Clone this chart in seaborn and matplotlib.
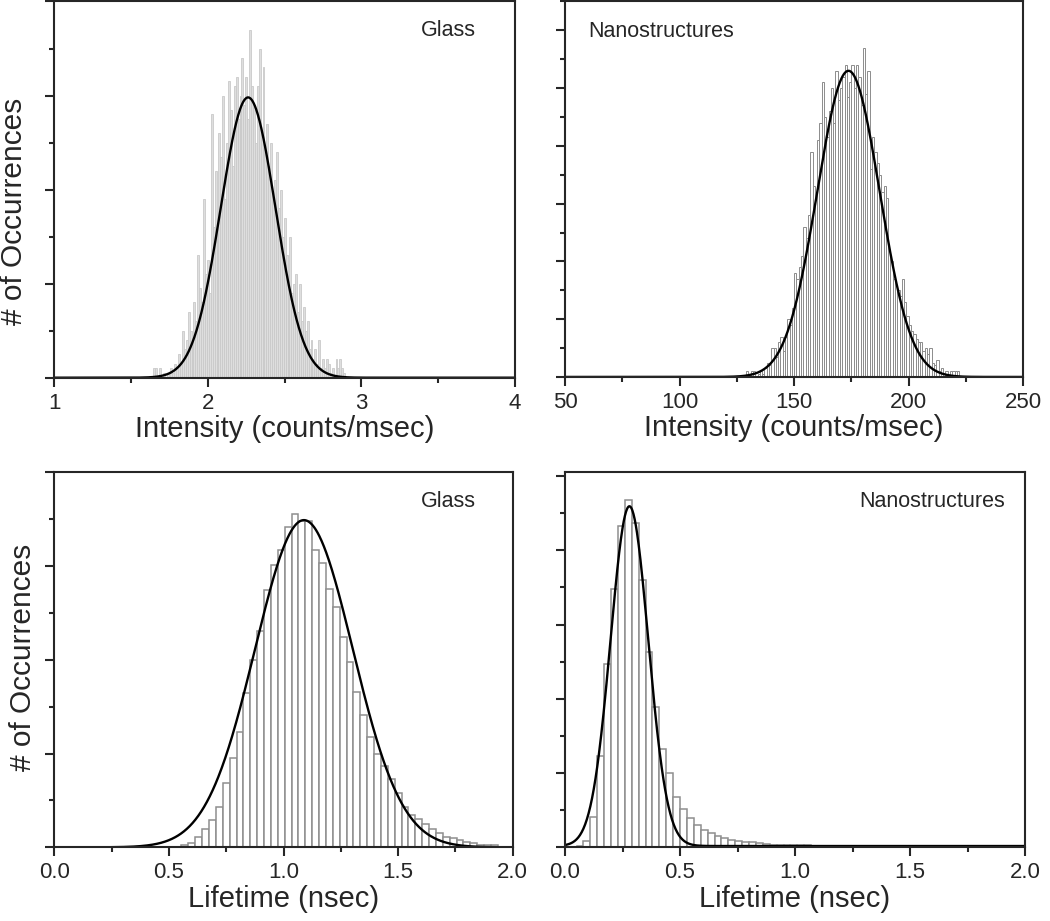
import numpy as np
import pandas as pd
import matplotlib
matplotlib.use('Agg')
import matplotlib.pyplot as plt
from matplotlib.ticker import MultipleLocator
import seaborn as sns

# ---- intensity, glass: bins of 0.0125 starting at 1.64375 ----
glass_int_start, glass_int_width = 1.64375, 0.0125
glass_int_counts = [2, 2, 0, 2, 0, 1, 0, 1, 0, 2,
                    1, 3, 2, 5, 3, 10, 6, 8, 14, 10,
                    8, 16, 12, 26, 19, 16, 38, 22, 25, 18,
                    56, 32, 44, 32, 52, 47, 60, 38, 50, 63,
                    57, 45, 62, 64, 55, 60, 68, 58, 64, 55,
                    74, 62, 58, 50, 62, 70, 52, 66, 48, 54,
                    45, 50, 38, 42, 48, 36, 40, 30, 34, 26,
                    22, 30, 18, 20, 22, 14, 20, 12, 15, 10,
                    12, 6, 8, 4, 6, 3, 8, 2, 4, 2,
                    4, 3, 1, 2, 0, 4, 2, 4, 2, 1,
                    0]
glass_int_fit = dict(amp=59.6, mu=2.262, sigma=0.178, base=0)

# ---- intensity, nanostructures: bins of 1 count/msec from 129 ----
nano_int_start, nano_int_width = 129, 1.0
nano_int_counts = [2, 0, 2, 2, 0, 1, 2, 1, 3, 5,
                   4, 10, 10, 7, 12, 14, 9, 14, 20, 18,
                   24, 36, 34, 38, 42, 52, 48, 56, 78, 66,
                   62, 82, 88, 102, 90, 83, 92, 100, 88, 106,
                   96, 100, 104, 108, 97, 102, 108, 100, 108, 104,
                   94, 114, 98, 106, 72, 83, 78, 74, 70, 64,
                   66, 62, 44, 40, 34, 32, 30, 28, 34, 26,
                   21, 18, 16, 15, 13, 12, 12, 9, 10, 8,
                   10, 5, 4, 6, 2, 3, 1, 2, 0, 2,
                   2, 2, 2]
nano_int_fit = dict(amp=106, mu=173.7, sigma=13.6, base=0)

# ---- lifetime, glass: bins of 0.03 nsec from 0.555 ----
glass_life_start, glass_life_width = 0.555, 0.03
glass_life_counts = [4, 9, 21, 39, 58, 87, 138, 191, 245, 330,
                     399, 462, 549, 602, 635, 684, 712, 697, 696, 635,
                     606, 552, 513, 449, 396, 332, 282, 236, 198, 174,
                     146, 115, 87, 70, 60, 50, 39, 30, 23, 19,
                     16, 12, 9, 6, 5, 4]
glass_life_fit = dict(amp=698, mu=1.089, sigma=0.213, base=0)

# ---- lifetime, nanostructures: bins of 0.03 nsec from 0.02 ----
nano_life_start, nano_life_width = 0.02, 0.03
nano_life_counts = [2, 4, 17, 83, 247, 495, 697, 865, 936, 874,
                    719, 526, 377, 264, 199, 135, 102, 78, 60, 47,
                    39, 31, 24, 20, 17, 13, 13, 11, 9, 7,
                    6, 6, 5, 5, 5, 4, 4, 4, 4, 4,
                    4, 3, 3, 3, 3, 3, 3, 3, 3, 3,
                    3, 3, 3, 3, 3, 3, 3, 3, 3, 3,
                    3, 3, 3, 3, 3, 3]
nano_life_fit = dict(amp=915, mu=0.28, sigma=0.082, base=3.5)

sns.set_style('ticks')
plt.rcParams['font.family'] = ['Liberation Sans', 'DejaVu Sans']


def hist_panel(ax, start, width, counts, fit, xlim, ylim, xmajor, ymajor,
               face, edge, lw):
    n = len(counts)
    df = pd.DataFrame({'center': start + width * (np.arange(n) + 0.5),
                       'count': np.asarray(counts, dtype=float)})
    sns.histplot(data=df, x='center', weights='count', ax=ax, stat='count',
                 binwidth=width, binrange=(start, start + width * n),
                 facecolor=face, edgecolor=edge, linewidth=lw, alpha=1)

    xs = np.linspace(xlim[0], xlim[1], 800)
    ys = fit['base'] + fit['amp'] * np.exp(-(xs - fit['mu']) ** 2 / (2 * fit['sigma'] ** 2))
    sns.lineplot(x=xs, y=ys, ax=ax, color='black', linewidth=1.7)

    ax.set_xlim(*xlim)
    ax.set_ylim(*ylim)
    ax.xaxis.set_major_locator(MultipleLocator(xmajor))
    ax.xaxis.set_minor_locator(MultipleLocator(xmajor / 2))
    ax.yaxis.set_major_locator(MultipleLocator(ymajor))
    ax.yaxis.set_minor_locator(MultipleLocator(ymajor / 2))
    ax.tick_params(which='both', direction='out', width=1.5, top=False, right=False,
                   labelsize=16, pad=4)
    ax.tick_params(which='major', length=6.7)
    ax.tick_params(which='minor', length=3.6)
    ax.tick_params(axis='y', labelleft=False)
    for sp in ax.spines.values():
        sp.set_visible(True)
        sp.set_linewidth(1.5)
    ax.set_ylabel('')


fig = plt.figure(figsize=(10.5, 9.21), dpi=100)
ax_tl = fig.add_axes([0.0517, 0.5899, 0.4388, 0.4085])
ax_tr = fig.add_axes([0.5381, 0.5907, 0.4365, 0.4077])
ax_bl = fig.add_axes([0.0517, 0.0800, 0.4366, 0.4072])
ax_br = fig.add_axes([0.5381, 0.0800, 0.4381, 0.4072])

hist_panel(ax_tl, glass_int_start, glass_int_width, glass_int_counts, glass_int_fit,
           (1, 4), (0, 80), 1, 20, '#dedede', '#cacaca', 0.6)
hist_panel(ax_tr, nano_int_start, nano_int_width, nano_int_counts, nano_int_fit,
           (50, 250), (0, 130), 50, 20, 'white', '#8c8c8c', 0.7)
hist_panel(ax_bl, glass_life_start, glass_life_width, glass_life_counts, glass_life_fit,
           (0, 2), (0, 800), 0.5, 200, 'white', '#8e8e8e', 1.1)
hist_panel(ax_br, nano_life_start, nano_life_width, nano_life_counts, nano_life_fit,
           (0, 2), (0, 1010), 0.5, 200, 'white', '#8e8e8e', 1.1)

ax_tl.set_xticks([1, 2, 3, 4], ['1', '2', '3', '4'])
ax_tr.set_xticks([50, 100, 150, 200, 250], ['50', '100', '150', '200', '250'])
for ax in (ax_bl, ax_br):
    ax.set_xticks([0, 0.5, 1.0, 1.5, 2.0], ['0.0', '0.5', '1.0', '1.5', '2.0'])

for ax in (ax_tl, ax_tr):
    ax.set_xlabel('Intensity (counts/msec)', fontsize=21, labelpad=1)
for ax in (ax_bl, ax_br):
    ax.set_xlabel('Lifetime (nsec)', fontsize=21, labelpad=1)

ax_tl.set_ylabel('# of Occurrences', fontsize=21.5)
ax_tl.yaxis.set_label_coords(-0.057, 0.443)
ax_bl.set_ylabel('# of Occurrences', fontsize=21.5)
ax_bl.yaxis.set_label_coords(-0.038, 0.507)

ax_tl.text(0.915, 0.922, 'Glass', transform=ax_tl.transAxes, ha='right', va='center', fontsize=15.5)
ax_tr.text(0.051, 0.921, 'Nanostructures', transform=ax_tr.transAxes, ha='left', va='center', fontsize=15.5)
ax_bl.text(0.92, 0.921, 'Glass', transform=ax_bl.transAxes, ha='right', va='center', fontsize=15.5)
ax_br.text(0.957, 0.921, 'Nanostructures', transform=ax_br.transAxes, ha='right', va='center', fontsize=15.5)

fig.savefig('out.png', dpi=100)
